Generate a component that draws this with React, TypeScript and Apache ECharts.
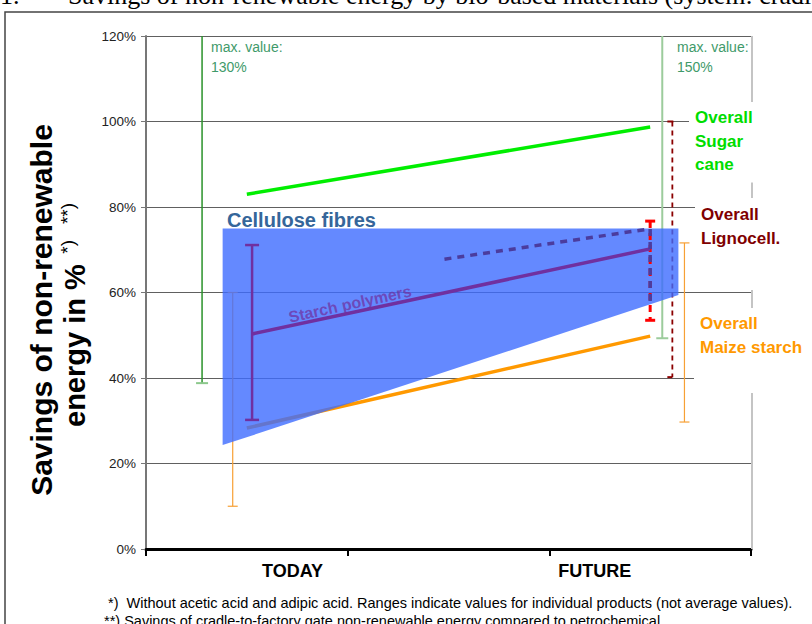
import React, { useEffect, useRef } from 'react';
import * as echarts from 'echarts';

// ---- data ----
const periods = ['TODAY', 'FUTURE'];
const periodLabelAt = [0.727, 2.225];
const xTickValues = [0, 1, 2, 3];

const sugarCane = [[0.5, 83.0], [2.5, 98.7]];
const maizeStarch = [[0.5, 28.3], [2.5, 49.8]];
const starchPolymers = [[0.526, 50.3], [2.5, 70.2]];
const starchPolymersUpper = [[1.48, 67.8], [2.5, 74.9], [2.5, 57.0]];
const celluloseFibres = [[0.38, 75.0], [2.64, 75.0], [2.64, 59.4], [0.38, 24.3]];

// ranges: [x, low, high]
const sugarRangeToday = [[0.278, 38.8, 120]];
const sugarRangeFuture = [[2.56, 49.3, 120]];
const maizeRanges = [[0.43, 10.0, 60.0], [2.67, 29.7, 71.6]];
const lignoRange = [[2.61, 40.2, 100.0]];
const starchRangeToday = [[0.526, 30.2, 71.1]];
const starchRangeFuture = [[2.5, 53.5, 76.7]];

const FONT = '"Liberation Sans", Arial, sans-serif';

function rangeSeries(data: number[][], o: any) {
  return {
    type: 'custom',
    data,
    z: o.z,
    silent: true,
    encode: { x: 0, y: [1, 2] },
    renderItem: (params: any, api: any) => {
      const x = api.value(0);
      const hi = api.coord([x, api.value(2)]);
      const lo = api.coord([x, api.value(1)]);
      const lineStyle: any = { stroke: o.color, lineWidth: o.width };
      if (o.dash) lineStyle.lineDash = o.dash;
      const children: any[] = [
        { type: 'line', shape: { x1: hi[0], y1: hi[1], x2: lo[0], y2: lo[1] }, style: lineStyle },
      ];
      const capStyle = { stroke: o.capColor || o.color, lineWidth: o.capWidth || o.width };
      if (o.capTop) {
        children.push({ type: 'line', shape: { x1: hi[0] - o.capTop[0], y1: hi[1], x2: hi[0] + o.capTop[1], y2: hi[1] }, style: capStyle });
      }
      if (o.capBottom) {
        children.push({ type: 'line', shape: { x1: lo[0] - o.capBottom[0], y1: lo[1], x2: lo[0] + o.capBottom[1], y2: lo[1] }, style: capStyle });
      }
      return { type: 'group', children };
    },
  };
}

export default function App() {
  const ref = useRef<HTMLDivElement>(null);

  useEffect(() => {
    if (!ref.current) return;
    const chart = echarts.init(ref.current, undefined, { renderer: 'svg' });

    const option: any = {
      animation: false,
      backgroundColor: '#ffffff',
      grid: { left: 146, right: 61, top: 36, bottom: 75, containLabel: false },
      xAxis: {
        type: 'value',
        min: 0,
        max: 3,
        interval: 1,
        axisLine: { show: true, onZero: false, lineStyle: { color: '#000', width: 3 } },
        axisTick: { show: true, length: 7, customValues: xTickValues, lineStyle: { color: '#000', width: 2 } },
        splitLine: { show: false },
        axisLabel: {
          customValues: periodLabelAt,
          formatter: (v: number) => periods[v < 1.5 ? 0 : 1],
          margin: 13,
          fontSize: 18,
          fontWeight: 'bold',
          fontFamily: FONT,
          color: '#000',
        },
      },
      yAxis: {
        type: 'value',
        min: 0,
        max: 120,
        interval: 20,
        axisLine: { show: true, lineStyle: { color: '#777', width: 2 } },
        axisTick: { show: true, length: 5, lineStyle: { color: '#777', width: 1 } },
        splitLine: { show: true, lineStyle: { color: '#606060', width: 1 } },
        axisLabel: { formatter: '{value}%', margin: 10, fontSize: 13.5, fontFamily: FONT, color: '#222' },
      },
      series: [
        rangeSeries(sugarRangeToday, { z: 2, color: '#2a922a', width: 1.5, capBottom: [6, 6], capColor: '#8cc88c', capWidth: 2 }),
        rangeSeries(sugarRangeFuture, { z: 2, color: '#9ccc9c', width: 2, capBottom: [6, 6] }),
        rangeSeries(maizeRanges, { z: 2, color: '#f7a035', width: 1.2, capTop: [5, 5], capBottom: [5, 5] }),
        rangeSeries(lignoRange, { z: 2, color: '#8b0000', width: 1.8, dash: [5, 4], capTop: [5, 1], capBottom: [5, 0], capWidth: 2 }),
        {
          type: 'line', data: maizeStarch, symbol: 'none', z: 3, silent: true,
          lineStyle: { color: '#ff9900', width: 3.5 },
        },
        {
          type: 'custom', data: celluloseFibres, z: 4, silent: true,
          encode: { x: 0, y: 1 },
          renderItem: (params: any, api: any) => {
            if (params.dataIndex !== 0) return null;
            const pts = celluloseFibres.map((p) => api.coord(p));
            return { type: 'polygon', shape: { points: pts }, style: { fill: 'rgba(61,107,255,0.8)' } };
          },
        },
        {
          type: 'line', data: sugarCane, symbol: 'none', z: 5, silent: true,
          lineStyle: { color: '#00ee00', width: 3.5 },
        },
        {
          type: 'line', data: starchPolymers, symbol: 'none', z: 5, silent: true,
          lineStyle: { color: '#7030a0', width: 3.5 },
        },
        rangeSeries(starchRangeToday, { z: 5, color: '#7030a0', width: 2.5, capTop: [7, 7], capBottom: [7, 7] }),
        rangeSeries(starchRangeFuture, { z: 5, color: '#ff0000', width: 3, dash: [7, 5], capTop: [5, 5], capBottom: [5, 5] }),
        {
          type: 'line', data: starchPolymersUpper, symbol: 'none', z: 6, silent: true,
          lineStyle: { color: '#4b3c9e', width: 3.5, type: [7, 6] },
        },
      ],
      graphic: [
        // outer frame
        { type: 'rect', z: 0, silent: true, shape: { x: 5, y: 12, width: 1000, height: 1000 }, style: { fill: 'none', stroke: '#444', lineWidth: 1.5 } },
        // title (cut off at top)
        { type: 'text', z: 50, x: 0, y: 8, style: { text: '1.', font: '26px "Liberation Serif", serif', fill: '#000', verticalAlign: 'bottom' } },
        { type: 'text', z: 50, x: 68, y: 8, style: { text: 'Savings of non-renewable energy by bio-based materials (system: cradle-to-factory gate)', font: '26px "Liberation Serif", serif', fill: '#000', verticalAlign: 'bottom' } },
        // right border
        { type: 'line', z: 1, silent: true, shape: { x1: 752, y1: 36, x2: 752, y2: 549 }, style: { stroke: '#c4c4c4', lineWidth: 2 } },
        // y axis name
        {
          type: 'text', z: 50, x: 41, y: 310, rotation: Math.PI / 2,
          style: { text: 'Savings of non-renewable', font: 'bold 30px ' + FONT, fill: '#000', align: 'center', verticalAlign: 'middle' },
        },
        {
          type: 'text', z: 50, x: 75, y: 315, rotation: Math.PI / 2,
          style: {
            text: '{m|energy in %}{s|  *)   **)}',
            align: 'center', verticalAlign: 'middle', fill: '#000',
            rich: {
              m: { font: 'bold 29px ' + FONT, lineHeight: 35, fill: '#000' },
              s: { font: '19px ' + FONT, lineHeight: 35, fill: '#000', verticalAlign: 'top', padding: [0, 0, 10, 0] },
            },
          },
        },
        // max value notes
        { type: 'text', z: 50, x: 211, y: 37, style: { text: 'max. value:\n130%', font: '14px ' + FONT, lineHeight: 20, fill: '#3f9a6a', verticalAlign: 'top' } },
        { type: 'text', z: 50, x: 677, y: 37, style: { text: 'max. value:\n150%', font: '14px ' + FONT, lineHeight: 20, fill: '#3f9a6a', verticalAlign: 'top' } },
        // in-plot labels
        { type: 'text', z: 50, x: 227, y: 220, style: { text: 'Cellulose fibres', font: 'bold 20px ' + FONT, fill: '#35669a', verticalAlign: 'middle' } },
        { type: 'text', z: 50, x: 350, y: 304, rotation: 0.215, style: { text: 'Starch polymers', font: 'bold 16px ' + FONT, fill: 'rgba(112,48,160,0.72)', align: 'center', verticalAlign: 'middle' } },
        // right labels
        { type: 'text', z: 60, x: 689, y: 102, style: { text: 'Overall\nSugar\ncane', font: 'bold 17px ' + FONT, lineHeight: 23.5, fill: '#00dd00', backgroundColor: '#fff', padding: [4, 10, 6, 6] } },
        { type: 'text', z: 60, x: 695, y: 198, style: { text: 'Overall\nLignocell.', font: 'bold 17px ' + FONT, lineHeight: 24, fill: '#800000', backgroundColor: '#fff', padding: [4, 30, 40, 6] } },
        { type: 'text', z: 60, x: 694, y: 308, style: { text: 'Overall\nMaize starch', font: 'bold 17px ' + FONT, lineHeight: 23.5, fill: '#ff9900', backgroundColor: '#fff', padding: [4, 30, 34, 6] } },
        // footnotes
        { type: 'text', z: 50, x: 108, y: 603, style: { text: '*)  Without acetic acid and adipic acid. Ranges indicate values for individual products (not average values).', font: '14.5px ' + FONT, fill: '#000', verticalAlign: 'middle' } },
        { type: 'text', z: 50, x: 104, y: 621, style: { text: '**) Savings of cradle-to-factory gate non-renewable energy compared to petrochemical', font: '14.5px ' + FONT, fill: '#000', verticalAlign: 'middle' } },
      ],
    };

    chart.setOption(option);
    return () => chart.dispose();
  }, []);

  return (
    <div
      ref={ref}
      style={{ position: 'fixed', left: 0, top: 0, width: 812, height: 624, background: '#fff' }}
    />
  );
}
